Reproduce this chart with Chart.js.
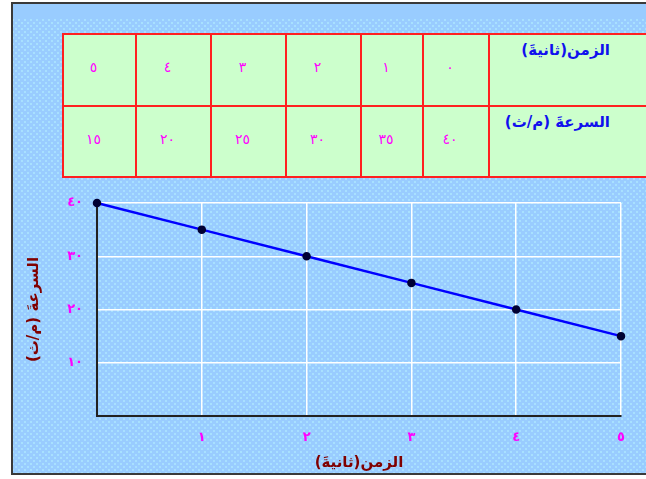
<!DOCTYPE html>
<html>
<head>
<meta charset="utf-8">
<script src="https://cdn.jsdelivr.net/npm/chart.js@4"></script>
<style>
  html, body { margin: 0; padding: 0; background: #fff; overflow: hidden; }
  #frame {
    position: absolute; left: 11px; top: 2px; width: 660px; height: 469px;
    border-left: 2px solid #3a3a3a; border-top: 2px solid #3a3a3a; border-bottom: 2px solid #3a3a3a;
    background-color: #99ccff;
    background-image:
      radial-gradient(circle, #a8e0ff 0.9px, transparent 1.1px),
      radial-gradient(circle, #a8e0ff 0.9px, transparent 1.1px);
    background-size: 6px 6px, 6px 6px;
    background-position: 0 16px, 3px 19px;
  }
  #band { position: absolute; left: 13px; top: 4px; width: 660px; height: 14px; background: #99ccff; }
  #tbl {
    position: absolute; left: 62px; top: 33px; width: 598px; border-collapse: collapse;
    table-layout: fixed; font-family: "DejaVu Sans", sans-serif;
  }
  #tbl td { border: 2px solid #ff2020; background: #ccffcc; padding: 0; }
  #tbl td.num { color: #ff00ff; font-size: 14px; text-align: center; padding-right: 12px; padding-bottom: 6px; }
  #tbl td.head { color: #1010ee; font-size: 15px; font-weight: bold; vertical-align: top;
    text-align: right; padding-top: 6px; padding-right: 50px; }
  #chart { position: absolute; left: 0; top: 0; }
</style>
</head>
<body>
<div id="frame"></div>
<div id="band"></div>
<table id="tbl" dir="rtl"></table>
<canvas id="chart" width="646" height="479"></canvas>
<script>
// Data
const timeLabel = 'الزمن(ثانيةَ)';
const speedLabel = 'السرعةَ (م/ث)';
const times = [0, 1, 2, 3, 4, 5];
const speeds = [40, 35, 30, 25, 20, 15];
const yTicks = [10, 20, 30, 40];

// Arabic-Indic digits
const arDigits = '٠١٢٣٤٥٦٧٨٩';
const toArabic = (n) => String(n).replace(/[0-9]/g, d => arDigits[d]);

// Table at the top (right to left)
const colWidths = [172, 66, 62, 75, 75, 75, 73];
const rowHeights = [72, 71];
const tbl = document.getElementById('tbl');
const colgroup = document.createElement('colgroup');
colWidths.forEach(w => {
    const c = document.createElement('col');
    c.style.width = w + 'px';
    colgroup.appendChild(c);
});
tbl.appendChild(colgroup);
[[timeLabel, times], [speedLabel, speeds]].forEach(([label, values], r) => {
    const tr = document.createElement('tr');
    tr.style.height = rowHeights[r] + 'px';
    const th = document.createElement('td');
    th.className = 'head';
    th.textContent = label;
    tr.appendChild(th);
    values.forEach(v => {
        const td = document.createElement('td');
        td.className = 'num';
        td.textContent = toArabic(v);
        tr.appendChild(td);
    });
    tbl.appendChild(tr);
});

// Chart
const font = { family: "'DejaVu Sans', sans-serif", size: 13, weight: 'bold' };

new Chart(document.getElementById('chart'), {
    type: 'line',
    data: {
        datasets: [{
            data: times.map((t, i) => ({ x: t, y: speeds[i] })),
            borderColor: '#0000ff',
            borderWidth: 2.5,
            pointRadius: 3,
            pointBackgroundColor: '#000033',
            pointBorderColor: '#000033',
            tension: 0
        }]
    },
    options: {
        responsive: false,
        animation: false,
        clip: false,
        layout: { padding: { left: 0, top: 203, right: 25, bottom: 0 } },
        plugins: { legend: { display: false }, tooltip: { enabled: false } },
        scales: {
            x: {
                type: 'linear',
                min: 0,
                max: 5,
                afterFit: (s) => { s.height = 63; },
                grid: {
                    color: (c) => c.tick && c.tick.value === 0 ? 'transparent' : '#ffffff',
                    lineWidth: 1.5,
                    drawTicks: false
                },
                border: { color: '#222', width: 2 },
                ticks: {
                    stepSize: 1,
                    padding: 14,
                    color: '#ff00ff',
                    font: font,
                    callback: (v) => v === 0 ? '' : toArabic(v)
                },
                title: {
                    display: true,
                    text: timeLabel,
                    color: '#800000',
                    font: { family: "'DejaVu Sans', sans-serif", size: 15, weight: 'bold' },
                    padding: { top: 0, bottom: 7 }
                }
            },
            y: {
                min: 0,
                max: 40,
                afterFit: (s) => { s.width = 97; },
                afterBuildTicks: (s) => { s.ticks = [0].concat(yTicks).map(v => ({ value: v })); },
                grid: {
                    color: (c) => c.tick && c.tick.value === 0 ? 'transparent' : '#ffffff',
                    lineWidth: 1.5,
                    drawTicks: false
                },
                border: { color: '#222', width: 2 },
                ticks: {
                    padding: 14,
                    color: '#ff00ff',
                    font: font,
                    callback: (v) => v === 0 ? '' : toArabic(v)
                },
                title: {
                    display: true,
                    text: speedLabel,
                    color: '#800000',
                    font: { family: "'DejaVu Sans', sans-serif", size: 15, weight: 'bold' },
                    padding: { top: 25, bottom: 0 }
                }
            }
        }
    }
});
</script>
</body>
</html>
